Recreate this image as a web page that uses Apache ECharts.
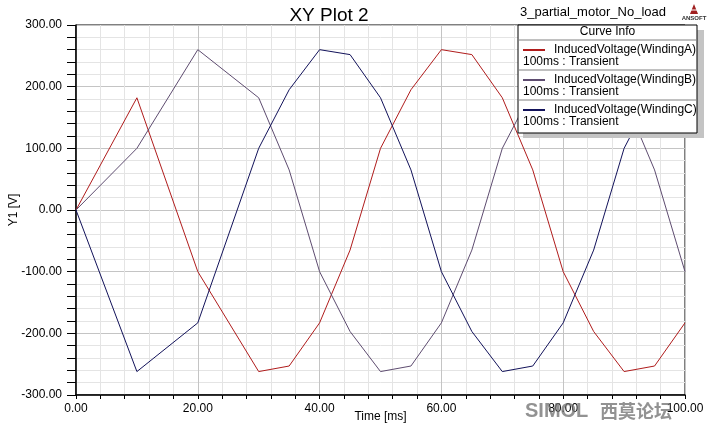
<!DOCTYPE html>
<html>
<head>
<meta charset="utf-8">
<script src="https://cdn.jsdelivr.net/npm/echarts@6/dist/echarts.min.js"></script>
<style>html,body{margin:0;padding:0;background:#fff}#c{width:711px;height:429px}</style>
</head>
<body>
<div id="c"></div>
<script>
const timeMs = [0,10,20,30,35,40,45,50,55,60,65,70,75,80,85,90,95,100];
const windingA = [0,182,-100,-262,-253,-183,-65,100,195,260,252,182,65,-100,-197,-262,-253,-183];
const windingB = [0,100,260,182,65,-100,-197,-262,-253,-183,-65,100,195,260,252,182,65,-100];
const windingC = [0,-262,-183,100,195,260,252,182,65,-100,-197,-262,-253,-183,-65,100,195,260];
const seriesNames = ['InducedVoltage(WindingA)','InducedVoltage(WindingB)','InducedVoltage(WindingC)'];
const seriesSub = '100ms : Transient';
const colors = ['#b01c1c','#5e4c70','#12125a'];
const xTicks = [0,20,40,60,80,100];
const yTicks = [-300,-200,-100,0,100,200,300];

const FONT = 'Liberation Sans, Arial, sans-serif';
const pair = v => v.map((y,i)=>[timeMs[i], y]);
const allData = [windingA, windingB, windingC];

const legendX = 518, legendY = 25, legendW = 179, rowH = 30;
const graphics = [
  {type:'rect', z:100, shape:{x:legendX+5,y:legendY+5,width:legendW+2,height:108}, style:{fill:'#c4c4c4'}},
  {type:'rect', z:101, shape:{x:legendX,y:legendY,width:legendW,height:108}, style:{fill:'#fff',stroke:'#000',lineWidth:1}},
  {type:'text', z:102, x:legendX+legendW/2, y:legendY+7, style:{text:'Curve Info', font:'12px '+FONT, fill:'#000', textAlign:'center', textVerticalAlign:'middle'}},
  {type:'line', z:102, shape:{x1:legendX,y1:legendY+15,x2:legendX+legendW,y2:legendY+15}, style:{stroke:'#808080',lineWidth:1}},
];
seriesNames.forEach((n,i)=>{
  const top = legendY+15+i*rowH;
  graphics.push({type:'line', z:102, shape:{x1:legendX+5,y1:top+10,x2:legendX+27,y2:top+10}, style:{stroke:colors[i],lineWidth:2}});
  graphics.push({type:'text', z:102, x:legendX+36, y:top+10, style:{text:n, font:'12px '+FONT, fill:'#000', textVerticalAlign:'middle'}});
  graphics.push({type:'text', z:102, x:legendX+5, y:top+22, style:{text:seriesSub, font:'12px '+FONT, fill:'#000', textVerticalAlign:'middle'}});
  if(i<2) graphics.push({type:'line', z:102, shape:{x1:legendX,y1:top+rowH,x2:legendX+legendW,y2:top+rowH}, style:{stroke:'#808080',lineWidth:1}});
});
// ANSOFT logo
graphics.push({type:'polygon', z:102, shape:{points:[[690,14],[694,4],[698,14]]}, style:{fill:'#a02020'}});
graphics.push({type:'line', z:103, shape:{x1:691,y1:10,x2:697,y2:10}, style:{stroke:'#fff',lineWidth:1}});
graphics.push({type:'text', z:102, x:694, y:18, style:{text:'ANSOFT', font:'bold 6px '+FONT, fill:'#333', textAlign:'center', textVerticalAlign:'middle'}});
// subtitle
graphics.push({type:'text', z:102, x:520, y:12, style:{text:'3_partial_motor_No_load', font:'13px '+FONT, fill:'#000', textVerticalAlign:'middle'}});
// watermark
graphics.push({type:'text', z:90, x:525, y:411, style:{text:'SIMOL', font:'bold 20px '+FONT, fill:'rgba(110,110,110,0.75)', textVerticalAlign:'middle'}});
graphics.push({type:'text', z:90, x:600, y:411, style:{text:'西莫论坛', font:'bold 18px "Noto Sans CJK SC", sans-serif', fill:'rgba(110,110,110,0.75)', textVerticalAlign:'middle'}});

const chart = echarts.init(document.getElementById('c'), null, {renderer:'canvas'});
chart.setOption({
  animation:false,
  backgroundColor:'#fff',
  title:{text:'XY Plot 2', left:324, top:1, textAlign:'center', textStyle:{fontFamily:FONT, fontSize:19, fontWeight:'normal', color:'#000'}},
  grid:{left:76, right:26, top:25, bottom:34, show:true, borderColor:'#000', borderWidth:1, containLabel:false, outerBoundsMode:'none'},
  xAxis:{type:'value', min:0, max:100, interval:20,
    name:'Time [ms]', nameLocation:'middle', nameGap:16, nameMoveOverlap:false, nameTextStyle:{fontFamily:FONT, fontSize:12, color:'#000'},
    axisLine:{onZero:false, lineStyle:{color:'#000', width:1.5}},
    axisTick:{show:true, length:4, lineStyle:{color:'#000'}},
    minorTick:{show:true, splitNumber:5, length:4, lineStyle:{color:'#000'}},
    splitLine:{show:true, lineStyle:{color:'#c4c4c4', width:1}},
    minorSplitLine:{show:true, lineStyle:{color:'#e4e4e4', width:1}},
    axisLabel:{fontFamily:FONT, fontSize:12, color:'#000', margin:8, formatter:v=>xTicks.includes(v)?v.toFixed(2):''}
  },
  yAxis:{type:'value', min:-300, max:300, interval:100,
    name:'Y1 [V]', nameLocation:'middle', nameGap:56, nameMoveOverlap:false, nameRotate:90, nameTextStyle:{fontFamily:FONT, fontSize:12, color:'#000'},
    axisLine:{show:true, onZero:false, lineStyle:{color:'#000', width:1.5}},
    axisTick:{show:true, length:9, lineStyle:{color:'#000'}},
    minorTick:{show:true, splitNumber:5, length:9, lineStyle:{color:'#000'}},
    splitLine:{show:true, lineStyle:{color:'#c4c4c4', width:1}},
    minorSplitLine:{show:true, lineStyle:{color:'#e4e4e4', width:1}},
    axisLabel:{fontFamily:FONT, fontSize:12, color:'#000', margin:14, formatter:v=>yTicks.includes(v)?v.toFixed(2):''}
  },
  series: allData.map((d,i)=>({
    name:seriesNames[i], type:'line', data:pair(d), showSymbol:false, symbol:'none',
    lineStyle:{color:colors[i], width:1}, itemStyle:{color:colors[i]}, z:2+i
  })),
  graphic: graphics
});
</script>
</body>
</html>
